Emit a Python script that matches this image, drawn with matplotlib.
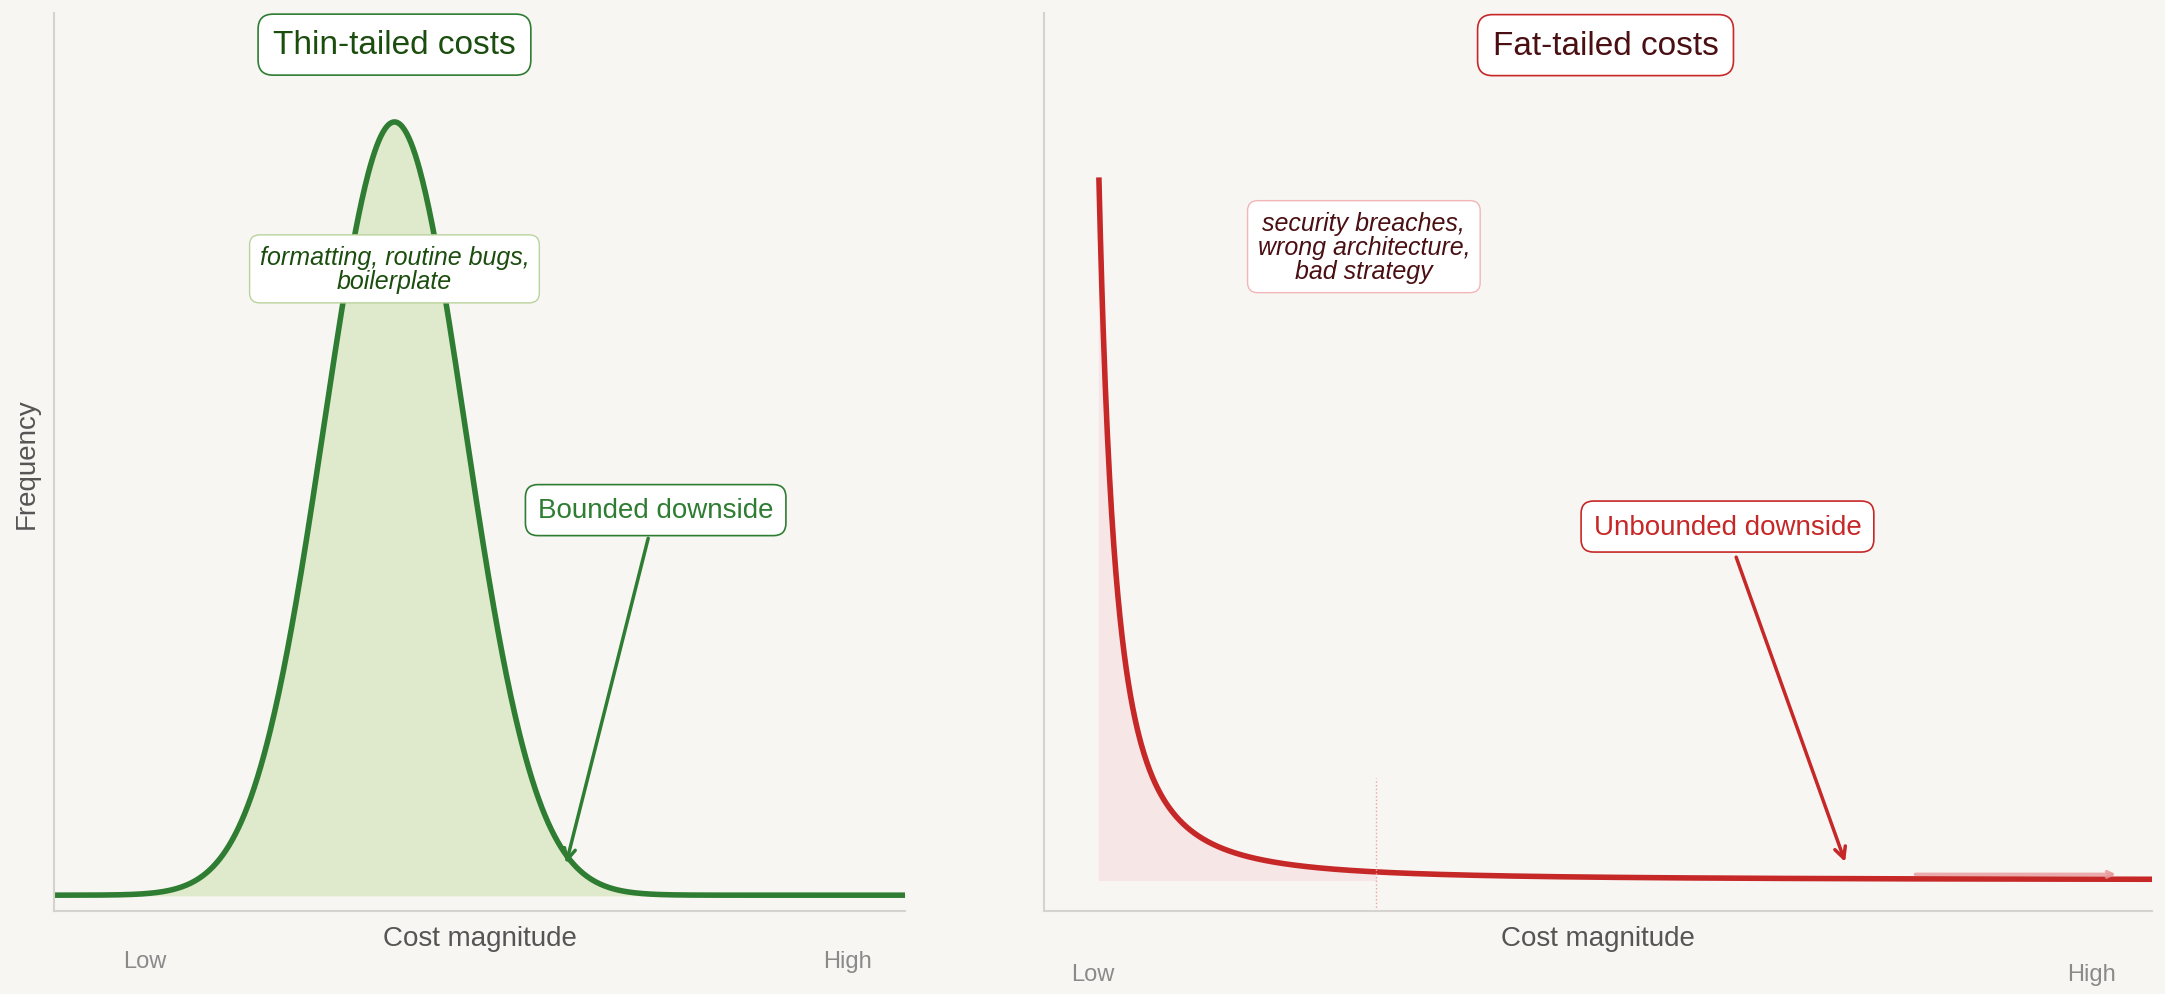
import numpy as np
import matplotlib.pyplot as plt

plt.rcParams['font.family'] = ['Liberation Sans', 'DejaVu Sans']

BG = '#f8f6f3'
GREEN = '#2e7d32'
GREEN_FILL = '#dfe9cb'
RED = '#c62828'
RED_FILL = '#f7e6e6'

# thin-tailed curve parameters
THIN_MEAN = 4.0
THIN_SIGMA = 0.83
# fat-tailed curve parameters
FAT_START = 0.5
FAT_SCALE = 0.3
FAT_CUTOFF = 3.0

x_thin = np.linspace(0, 10, 800)
y_thin = np.exp(-0.5 * ((x_thin - THIN_MEAN) / THIN_SIGMA) ** 2)
x_fat = np.linspace(FAT_START, 10, 1500)
y_fat = 1.0 / (1 + (x_fat - FAT_START) / FAT_SCALE) ** 2

fig = plt.figure(figsize=(21.65, 9.95), dpi=100, facecolor=BG)
ax1 = fig.add_axes([0.025, 0.083, 0.393, 0.903])
ax2 = fig.add_axes([0.482, 0.083, 0.512, 0.903])

for ax in (ax1, ax2):
    ax.set_facecolor(BG)
    for s in ('top', 'right'):
        ax.spines[s].set_visible(False)
    for s in ('left', 'bottom'):
        ax.spines[s].set_color('#d6d3ce')
        ax.spines[s].set_linewidth(1.5)
    ax.set_xticks([])
    ax.set_yticks([])
    ax.set_xlim(0, 10)
    ax.set_xlabel('Cost magnitude', fontsize=20, color='#555555', labelpad=10)

# left panel
ax1.set_ylim(-0.021, 1.141)
ax1.fill_between(x_thin, 0, y_thin, color=GREEN_FILL)
ax1.plot(x_thin, y_thin, color=GREEN, lw=4)
ax1.set_ylabel('Frequency', fontsize=20, color='#555555', labelpad=10)
ax1.text(4.0, 1.10, 'Thin-tailed costs', ha='center', va='center', fontsize=24,
         color='#1b4d0f', bbox=dict(boxstyle='round,pad=0.45', fc='white', ec=GREEN, lw=1.2))
ax1.text(4.0, 0.81, 'formatting, routine bugs,\nboilerplate', ha='center', va='center',
         fontsize=18, style='italic', color='#1b4d0f', linespacing=1.0,
         bbox=dict(boxstyle='round,pad=0.4', fc='white', ec='#b9d39c', lw=1))
ax1.annotate('', xy=(6.01, 0.0375), xytext=(6.99, 0.465),
             arrowprops=dict(arrowstyle='->', color=GREEN, lw=2.5, mutation_scale=20))
ax1.text(7.07, 0.498, 'Bounded downside', ha='center', va='center', fontsize=20,
         color=GREEN, bbox=dict(boxstyle='round,pad=0.45', fc='white', ec=GREEN, lw=1.2))
ax1.text(1.07, -0.085, 'Low', ha='center', va='center', fontsize=17, color='#8a8a8a')
ax1.text(9.33, -0.085, 'High', ha='center', va='center', fontsize=17, color='#8a8a8a')

# right panel
ax2.set_ylim(-0.045, 1.239)
mask = x_fat <= FAT_CUTOFF
ax2.fill_between(x_fat[mask], 0, y_fat[mask], color=RED_FILL)
ax2.plot(x_fat, y_fat, color=RED, lw=4)
ax2.plot([FAT_CUTOFF, FAT_CUTOFF], [-0.045, 0.145], color='#f2a0a0', lw=1, ls=':')
ax2.annotate('', xy=(9.7, 0.008), xytext=(7.84, 0.008),
             arrowprops=dict(arrowstyle='->', color='#e8999b', lw=2.5, alpha=0.8))
ax2.text(5.07, 1.193, 'Fat-tailed costs', ha='center', va='center', fontsize=24,
         color='#4a0f12', bbox=dict(boxstyle='round,pad=0.45', fc='white', ec=RED, lw=1.2))
ax2.text(2.89, 0.905, 'security breaches,\nwrong architecture,\nbad strategy', ha='center',
         va='center', fontsize=18, style='italic', color='#4a0f12', linespacing=1.0,
         bbox=dict(boxstyle='round,pad=0.4', fc='white', ec='#f2b6b8', lw=1))
ax2.annotate('', xy=(7.24, 0.022), xytext=(6.24, 0.465),
             arrowprops=dict(arrowstyle='->', color=RED, lw=2.5, mutation_scale=20))
ax2.text(6.17, 0.505, 'Unbounded downside', ha='center', va='center', fontsize=20,
         color=RED, bbox=dict(boxstyle='round,pad=0.45', fc='white', ec=RED, lw=1.2))
ax2.text(0.44, -0.135, 'Low', ha='center', va='center', fontsize=17, color='#8a8a8a')
ax2.text(9.45, -0.135, 'High', ha='center', va='center', fontsize=17, color='#8a8a8a')

fig.savefig('out.png', dpi=100, facecolor=BG)
